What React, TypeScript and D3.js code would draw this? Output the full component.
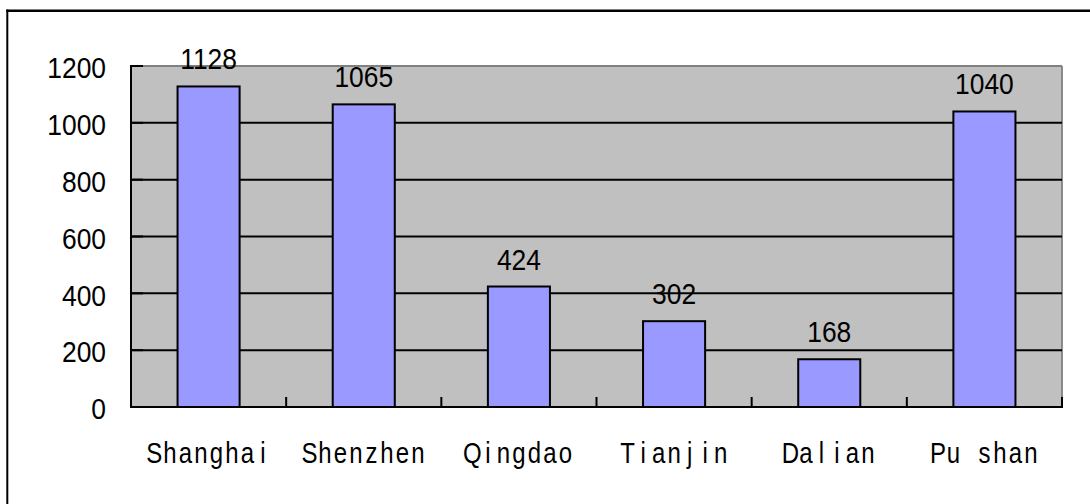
import React from "react";
import * as d3 from "d3";

// Port figures per city
const categories = ["Shanghai", "Shenzhen", "Qingdao", "Tianjin", "Dalian", "Pu shan"];
const values = [1128, 1065, 424, 302, 168, 1040];
const yTicks = [0, 200, 400, 600, 800, 1000, 1200];

const W = 1090;
const H = 504;
const plot = { left: 131, right: 1062, top: 66, bottom: 407 };

const GRAY_BG = "#c0c0c0";
const BAR_FILL = "#9999ff";
const FONT = "'Liberation Sans', Arial, sans-serif";

// Monospaced-cell label: each glyph centred in its own fixed-width cell
function CellText({ text, cx, baseline, cell = 15.5, sx = 0.8, size = 30 }: {
  text: string; cx: number; baseline: number; cell?: number; sx?: number; size?: number;
}) {
  const n = text.length;
  const xs = Array.from(text).map((_, i) => ((i - (n - 1) / 2) * cell) / sx);
  return (
    <text
      transform={`translate(${cx},${baseline}) scale(${sx},1)`}
      x={xs.join(" ")}
      y={0}
      textAnchor="middle"
      fontFamily={FONT}
      fontSize={size}
      fill="#000"
    >
      {text}
    </text>
  );
}

function NumText({ text, x, baseline, anchor }: { text: string; x: number; baseline: number; anchor: "start" | "middle" | "end" }) {
  return (
    <text
      transform={`translate(${x},${baseline}) scale(0.88,1)`}
      textAnchor={anchor}
      fontFamily={FONT}
      fontSize={30}
      fill="#000"
    >
      {text}
    </text>
  );
}

export default function App() {
  const x = d3
    .scaleBand<string>()
    .domain(categories)
    .range([plot.left, plot.right])
    .paddingInner(0.6)
    .paddingOuter(0.3);
  const y = d3.scaleLinear().domain([0, 1200]).range([plot.bottom, plot.top]);
  const step = x.step();
  const boundaries = categories.map((c) => (x(c) as number) - step * 0.3).concat([plot.right]);

  return (
    <svg
      width={W}
      height={H}
      viewBox={`0 0 ${W} ${H}`}
      style={{ position: "absolute", left: 0, top: 0, background: "#fff" }}
    >
      {/* outer frame */}
      <line x1={7.3} y1={9.5} x2={7.3} y2={H} stroke="#000" strokeWidth={2} />
      <line x1={6.3} y1={10.7} x2={W} y2={10.7} stroke="#000" strokeWidth={2.4} />

      {/* plot area */}
      <rect
        x={plot.left}
        y={plot.top}
        width={plot.right - plot.left}
        height={plot.bottom - plot.top}
        fill={GRAY_BG}
      />
      <line x1={plot.left} y1={plot.top} x2={plot.right} y2={plot.top} stroke="#808080" strokeWidth={1.8} />
      <line x1={plot.right} y1={plot.top} x2={plot.right} y2={plot.bottom} stroke="#808080" strokeWidth={1.8} />

      {/* gridlines */}
      {yTicks
        .filter((t) => t > 0 && t < 1200)
        .map((t) => (
          <line key={t} x1={plot.left} x2={plot.right} y1={y(t)} y2={y(t)} stroke="#000" strokeWidth={2} />
        ))}

      {/* bars */}
      {categories.map((c, i) => (
        <rect
          key={c}
          x={x(c)}
          y={y(values[i])}
          width={x.bandwidth()}
          height={plot.bottom - y(values[i])}
          fill={BAR_FILL}
          stroke="#000"
          strokeWidth={2}
        />
      ))}

      {/* axes */}
      <line x1={plot.left} y1={plot.top - 1} x2={plot.left} y2={plot.bottom + 1} stroke="#000" strokeWidth={2} />
      <line x1={plot.left - 1} y1={plot.bottom} x2={plot.right + 1} y2={plot.bottom} stroke="#000" strokeWidth={2} />
      {yTicks.map((t) => (
        <line key={t} x1={plot.left} x2={plot.left + 12} y1={y(t)} y2={y(t)} stroke="#000" strokeWidth={2} />
      ))}
      {boundaries.map((b, i) => (
        <line key={i} x1={b} x2={b} y1={plot.bottom} y2={plot.bottom - 10} stroke="#000" strokeWidth={2} />
      ))}

      {/* y tick labels */}
      {yTicks.map((t) => (
        <NumText key={t} text={String(t)} x={106} baseline={y(t) + 12.3} anchor="end" />
      ))}

      {/* value labels */}
      {categories.map((c, i) => (
        <NumText
          key={c}
          text={String(values[i])}
          x={(x(c) as number) + x.bandwidth() / 2}
          baseline={y(values[i]) - 17}
          anchor="middle"
        />
      ))}

      {/* category labels */}
      {categories.map((c) => (
        <CellText key={c} text={c} cx={(x(c) as number) + x.bandwidth() / 2} baseline={463.3} />
      ))}
    </svg>
  );
}
